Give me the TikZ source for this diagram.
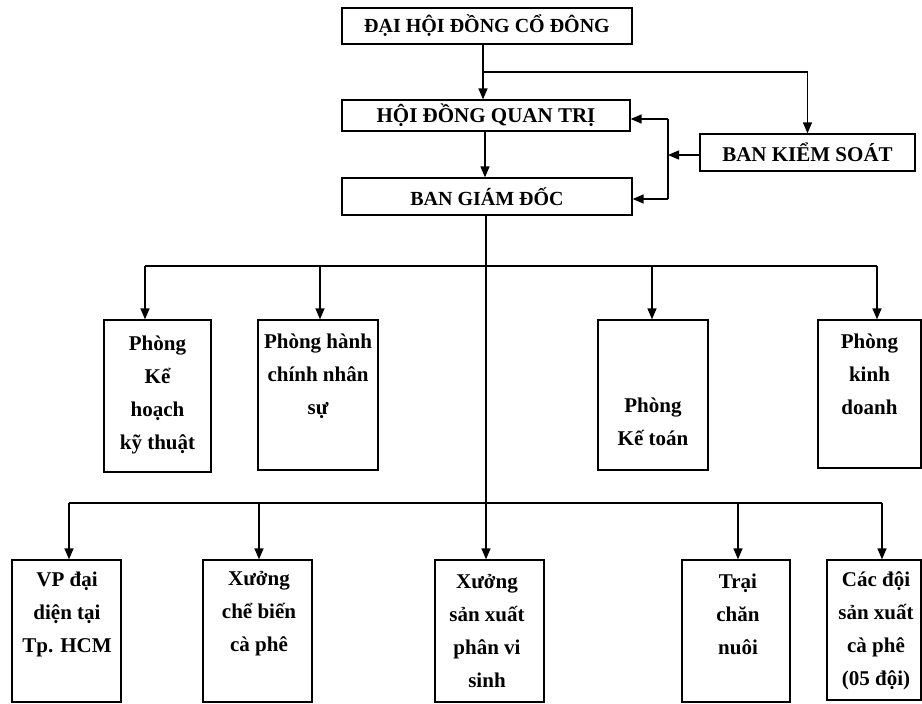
\documentclass[tikz,border=0pt]{standalone}
\usepackage{fontspec}
\setmainfont{Liberation Serif}
\usetikzlibrary{arrows.meta}
\begin{document}
\begin{tikzpicture}[x=1pt,y=-1pt,
  box/.style={draw, line width=1.3pt, inner sep=0pt},
  ttl/.style={font=\fontsize{20}{24}\selectfont\bfseries},
  lbl/.style={font=\fontsize{21}{33}\selectfont\bfseries, align=center, inner sep=0pt},
  conn/.style={line width=1.4pt},
  arr/.style={conn, -{Triangle[length=11pt,width=9pt]}}]
\useasboundingbox (0,0) rectangle (922,704);
% top level boxes
\node[box, ttl, minimum width=290pt, minimum height=36pt] (dh) at (487,26) {ĐẠI HỘI ĐỒNG CỔ ĐÔNG};
\node[box, ttl, minimum width=288pt, minimum height=31pt, font=\fontsize{21}{24}\selectfont\bfseries] (hd) at (486,115.5) {HỘI ĐỒNG QUAN TRỊ};
\node[box, ttl, minimum width=290pt, minimum height=37pt] (gd) at (487,196.5) {BAN GIÁM ĐỐC};
\node[box, ttl, minimum width=215pt, minimum height=37pt, font=\fontsize{21}{24}\selectfont\bfseries] (ks) at (807.5,152.5) {BAN KIỂM SOÁT};
% departments
\node[box, minimum width=107pt, minimum height=152pt] (p1) at (157.5,396) {};
\node[box, minimum width=120pt, minimum height=150pt] (p2) at (318,395) {};
\node[box, minimum width=110pt, minimum height=150pt] (p3) at (653,395) {};
\node[box, minimum width=103pt, minimum height=148pt] (p4) at (869.5,394) {};
\node[lbl] (p1t) at (157.5,395) {Phòng\\Kể\\hoạch\\kỹ thuật};
\node[lbl] (p2t) at (318,376) {Phòng hành\\chính nhân\\sự};
\node[lbl] (p3t) at (653,422) {Phòng\\Kế toán};
\node[lbl] (p4t) at (869.5,374) {Phòng\\kinh\\doanh};
% units
\node[box, minimum width=109pt, minimum height=142pt] (v1) at (66.5,631) {};
\node[box, minimum width=109pt, minimum height=142pt] (v2) at (257.5,631) {};
\node[box, minimum width=109pt, minimum height=142pt] (v3) at (489.5,631) {};
\node[box, minimum width=108pt, minimum height=142pt] (v4) at (736,631) {};
\node[box, minimum width=94pt, minimum height=140pt] (v5) at (874,630) {};
\node[lbl] (v1t) at (67,614) {VP đại\\diện tại\\Tp. HCM};
\node[lbl] (v2t) at (259,614) {Xưởng\\chể biến\\cà phê};
\node[lbl] (v3t) at (487,631) {Xưởng\\sản xuất\\phân vi\\sinh};
\node[lbl] (v4t) at (738,614) {Trại\\chăn\\nuôi};
\node[lbl] (v5t) at (876,631) {Các đội\\sản xuất\\cà phê\\(05 đội)};
% connectors top
\coordinate (j1) at (483,72);
\draw[arr] (j1 |- dh.south) -- (j1 |- hd.north);
\draw[arr] (j1) -| (ks.north);
\coordinate (j2) at (485,150);
\draw[arr] (j2 |- hd.south) -- (j2 |- gd.north);
\coordinate (k0) at (668,155);
\coordinate (k1) at (668,119);
\coordinate (k2) at (668,199);
\draw[arr] (ks.west |- k0) -- (k0);
\draw[conn] (k1) -- (k2);
\draw[arr] (k1) -- (k1 -| hd.east);
\draw[arr] (k2) -- (k2 -| gd.east);
% trunk
\coordinate (t2) at (486,503);
\draw[conn] (gd.south -| t2) -- (t2);
% bus 1
\coordinate (a1) at (145,266);
\coordinate (a2) at (320,266);
\coordinate (a3) at (652,266);
\coordinate (a4) at (877,266);
\draw[conn] (a1) -- (a4);
\draw[arr] (a1) -- (a1 |- p1.north);
\draw[arr] (a2) -- (a2 |- p2.north);
\draw[arr] (a3) -- (a3 |- p3.north);
\draw[arr] (a4) -- (a4 |- p4.north);
% bus 2
\coordinate (b1) at (69,503);
\coordinate (b2) at (259,503);
\coordinate (b3) at (486,503);
\coordinate (b4) at (738,503);
\coordinate (b5) at (882,503);
\draw[conn] (b1) -- (b5);
\draw[arr] (b1) -- (b1 |- v1.north);
\draw[arr] (b2) -- (b2 |- v2.north);
\draw[arr] (b3) -- (b3 |- v3.north);
\draw[arr] (b4) -- (b4 |- v4.north);
\draw[arr] (b5) -- (b5 |- v5.north);
\end{tikzpicture}
\end{document}
